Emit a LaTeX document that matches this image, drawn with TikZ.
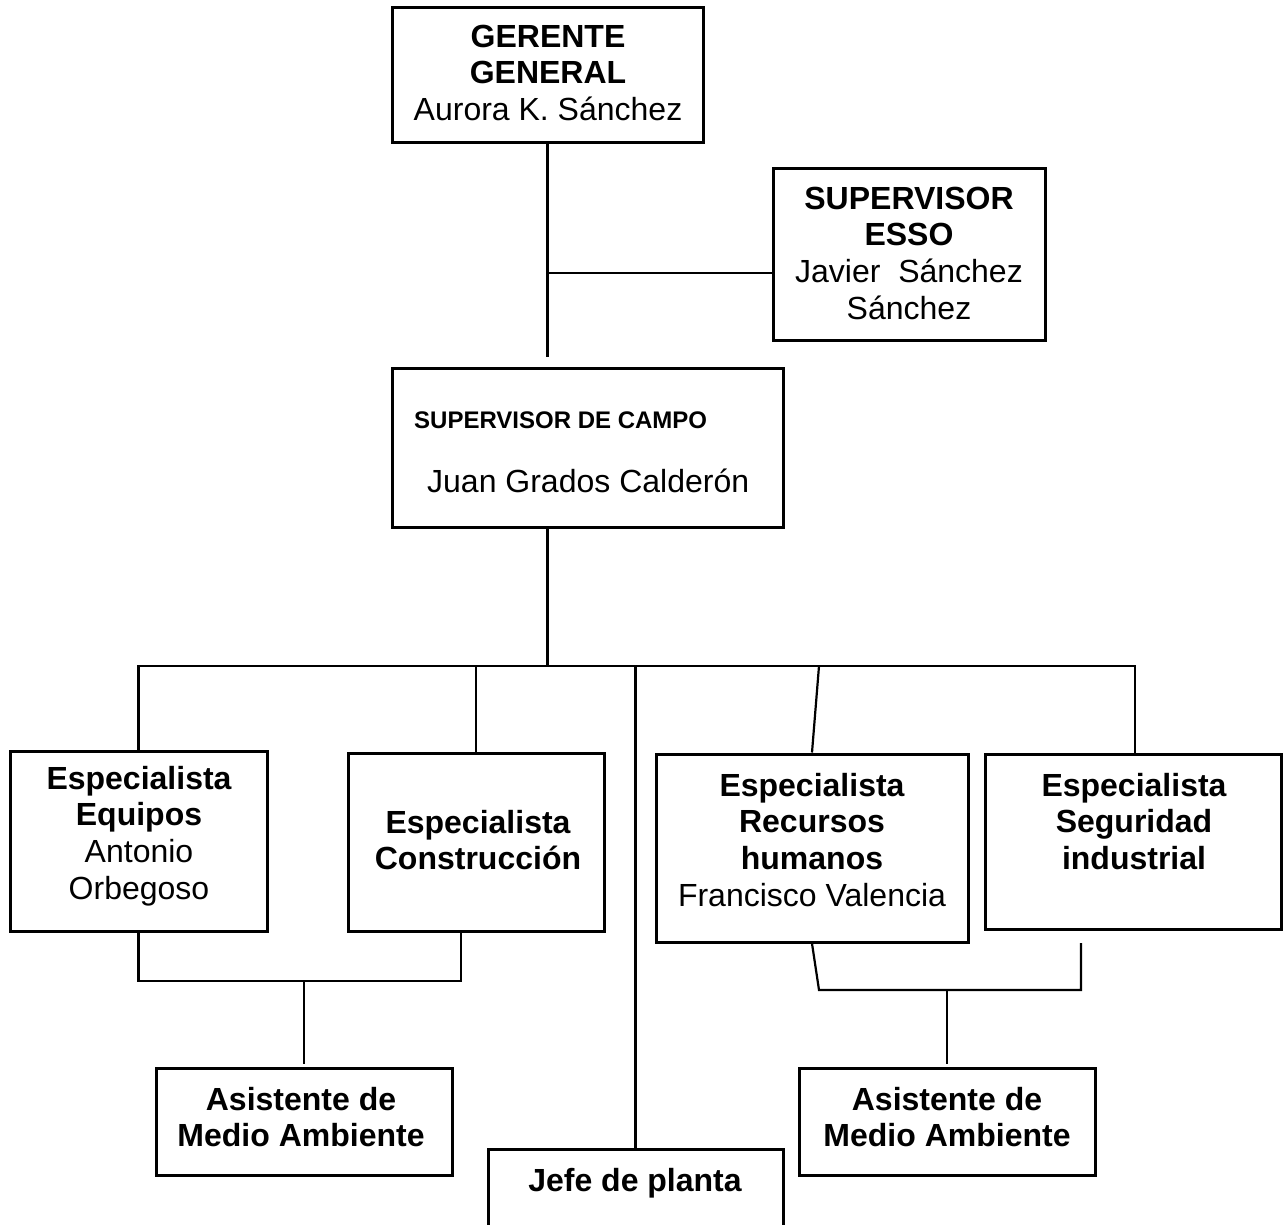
\documentclass[tikz,border=0pt]{standalone}
\usepackage{fontspec}
\setmainfont{Liberation Sans}
\newcommand\bigf{\fontsize{32}{36.7}\selectfont}
\newcommand\smallbf{\fontsize{24}{27.6}\selectfont\bfseries}
\newcommand\R{\rule{0pt}{25pt}}
\tikzset{
  box/.style={draw, line width=3pt, inner sep=0pt},
  lbl/.style={inner sep=0pt, anchor=north, align=center, font=\bigf},
  conn/.style={line width=2.2pt, line join=miter},
}
\begin{document}
\begin{tikzpicture}[x=1pt,y=-1pt]
\useasboundingbox (0,0) rectangle (1285,1225);
\clip (0,0) rectangle (1285,1225);
\fill[white] (0,0) rectangle (1285,1225);

% boxes
\node[box, minimum width=311pt, minimum height=135pt] (ger) at (547.5,75.5) {};
\node[box, minimum width=272pt, minimum height=171pt] (esso) at (909,254.5) {};
\node[box, minimum width=391pt, minimum height=159pt] (sc) at (587.5,447.5) {};
\node[box, minimum width=257pt, minimum height=180pt] (eq) at (138.5,841) {};
\node[box, minimum width=256pt, minimum height=178pt] (cons) at (476,842) {};
\node[box, minimum width=312pt, minimum height=188pt] (rh) at (812,848) {};
\node[box, minimum width=296pt, minimum height=175pt] (seg) at (1133,841.5) {};
\node[box, minimum width=296pt, minimum height=107pt] (asL) at (304,1121.5) {};
\node[box, minimum width=296pt, minimum height=107pt] (asR) at (947,1121.5) {};
\node[box, minimum width=295pt, minimum height=111pt] (jefe) at (635.5,1204.5) {};

% texts
\node[lbl] (gert) at (548,22) {\R\bfseries GERENTE\\\bfseries GENERAL\\Aurora K. Sánchez};
\node[lbl] (essot) at (909,184) {\R\bfseries SUPERVISOR\\\bfseries ESSO\\Javier\ \ Sánchez\\Sánchez};
\node[inner sep=0pt, anchor=base west, font=\smallbf] (sct1) at (414,428) {SUPERVISOR DE CAMPO};
\node[inner sep=0pt, anchor=base west, font=\bigf] (sct2) at (427,492) {Juan Grados Calderón};
\node[lbl] (eqt) at (139,764) {\R\bfseries Especialista\\\bfseries Equipos\\Antonio\\Orbegoso};
\node[lbl] (const) at (478,808) {\R\bfseries Especialista\\\bfseries Construcción};
\node[lbl] (rht) at (812,771) {\R\bfseries Especialista\\\bfseries Recursos\\\bfseries humanos\\Francisco Valencia};
\node[lbl] (segt) at (1134,771) {\R\bfseries Especialista\\\bfseries Seguridad\\\bfseries industrial};
\node[lbl] (asLt) at (301,1085) {\R\bfseries Asistente de\\\bfseries Medio Ambiente};
\node[lbl] (asRt) at (947,1085) {\R\bfseries Asistente de\\\bfseries Medio Ambiente};
\node[lbl] (jefet) at (635,1166) {\R\bfseries Jefe de planta};

% coordinates
\coordinate (gE) at (547.5,357);
\coordinate (gJ) at (547.5,273);
\coordinate (busC) at (547.5,666);
\coordinate (busL) at (138.5,666);
\coordinate (busR) at (1135,666);
\coordinate (rhT) at (819,666);
\coordinate (bl1) at (138.5,981);
\coordinate (bl2) at (461,981);
\coordinate (bl3) at (461,933);
\coordinate (blC) at (304,981);
\coordinate (blE) at (304,1064);
\coordinate (br1) at (819,990);
\coordinate (br2) at (1081,990);
\coordinate (br3) at (1081,943);
\coordinate (brC) at (947,990);
\coordinate (brE) at (947,1064);

% connectors
\draw[conn] (ger.south) -- (gE);
\draw[conn] (gJ) -- (gJ -| esso.west);
\draw[conn] (sc.south -| busC) -- (busC);
\draw[conn] (eq.north) -- (busL) -- (busR) -- (busR |- seg.north);
\draw[conn] (cons.north |- busC) -- (cons.north);
\draw[conn] (jefe.north |- busC) -- (jefe.north);
\draw[conn] (rhT) -- (rh.north);
\draw[conn] (eq.south) -- (bl1) -- (bl2) -- (bl3);
\draw[conn] (blC) -- (blE);
\draw[conn] (rh.south) -- (br1) -- (br2) -- (br3);
\draw[conn] (brC) -- (brE);
\end{tikzpicture}
\end{document}
